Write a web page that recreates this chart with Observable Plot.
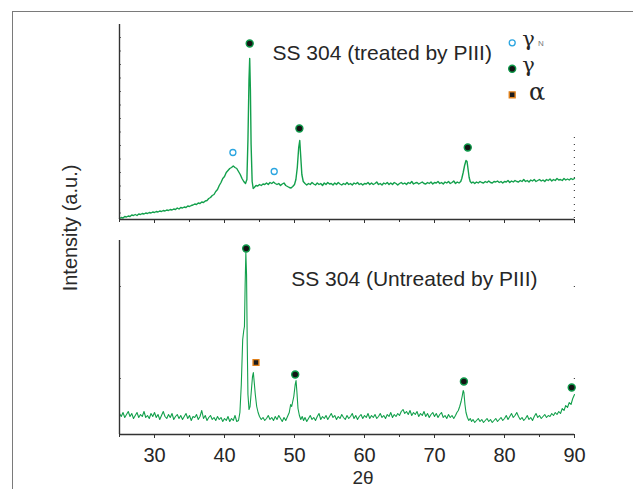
<!DOCTYPE html>
<html><head><meta charset="utf-8">
<script src="https://cdn.jsdelivr.net/npm/d3@7"></script>
<script src="https://cdn.jsdelivr.net/npm/@observablehq/plot@0.6"></script>
<style>
body{margin:0;background:#fff;}
#wrap{position:relative;width:633px;height:489px;overflow:hidden;font-family:"Liberation Sans",Arial,sans-serif;background:#fff;}
#frame{position:absolute;left:12px;top:11px;width:700px;height:600px;border-left:1.5px solid #7a7a7a;border-top:1.5px solid #7a7a7a;}
#top,#bottom{position:absolute;left:0;}
#top{top:0px;}
#bottom{top:230px;}
#ylabel{position:absolute;left:-30px;top:217.5px;width:200px;height:20px;line-height:20px;font-size:20px;text-align:center;color:#2a2a2a;transform:rotate(-90deg);transform-origin:50% 50%;white-space:nowrap;}
#xlabel{position:absolute;left:313px;top:469.9px;width:100px;height:15px;text-align:center;font-size:19px;line-height:15px;color:#2a2a2a;}
</style>
</head><body>
<div id="wrap">
  <div id="frame"></div>
  <div id="top"></div>
  <div id="bottom"></div>
  <div id="ylabel"></div>
  <div id="xlabel"></div>
</div>
<script>
// ---------- data ----------
const yLabel = "Intensity (a.u.)";
const xLabel = "2θ";
const titles = ["SS 304 (treated by PIII)", "SS 304 (Untreated by PIII)"];
const xDomain = [25, 90];
const xTickLabels = [30, 40, 50, 60, 70, 80, 90];
const xMinorTicks = [25, 35, 45, 55, 65, 75, 85];
const topYTicks = [6.5, 20, 33.5, 47, 60.5, 74, 87.5, 101, 114.5, 128, 141.5, 155, 168.5, 182];
const topRightTicks = [2, 9, 15, 22, 29, 35, 42, 49, 55, 62, 69, 75, 82];
const bottomYTicks = [56, 148];

// treated spectrum: [2θ, intensity]
const treated = [
[25,1],[25.25,2],[25.5,1.5],[25.75,3],[26,2.5],[26.25,3.5],[26.5,3],[26.75,4.5],[27,4],[27.25,5],[27.5,4],[27.75,5.5],
[28,5],[28.25,6],[28.5,5.5],[28.75,6.5],[29,6],[29.25,7],[29.5,6.5],[29.75,7.5],[30,7],[30.25,8],[30.5,7.5],[30.75,8.5],
[31,8],[31.25,9],[31.5,8.5],[31.75,9.5],[32,9],[32.25,10],[32.5,9.5],[32.75,10.5],[33,10],[33.25,11.5],[33.5,10.5],[33.75,12],
[34,11.5],[34.25,12.5],[34.5,12],[34.75,13.5],[35,13],[35.25,14],[35.5,14.5],[35.75,15.5],[36,15],[36.25,16.5],[36.5,16],[36.75,17.5],
[37,17],[37.25,18.5],[37.5,19],[37.75,21],[38,22],[38.25,24],[38.5,25],[38.75,28],[39,30],[39.25,34],[39.5,37],[39.75,41],
[40,43],[40.25,47],[40.5,49],[40.75,51],[41,52],[41.25,53.5],[41.5,52],[41.75,51],[42,48],[42.25,45],[42.5,41],[42.75,38],
[43,36],[43.2,40],[43.35,80],[43.5,140],[43.6,161],[43.7,130],[43.8,75],[43.95,38],[44.1,31],[44.25,32],[44.5,34],[44.75,33.5],
[45,35],[45.25,34],[45.5,35.5],[45.75,35],[46,36.5],[46.25,35],[46.5,37],[46.75,36],[47,37.5],[47.25,36],[47.5,35],[47.75,36],
[48,34],[48.25,35.5],[48.5,36.5],[48.75,34],[49,33],[49.25,32],[49.5,31.5],[49.75,33],[50,35],[50.2,40],[50.4,52],[50.6,72],
[50.75,79],[50.9,62],[51.05,45],[51.25,38],[51.5,36],[51.75,34.5],[52,36],[52.25,35],[52.5,37],[52.75,35.5],[53,34.5],[53.25,36.5],
[53.5,35],[53.75,36],[54,34],[54.25,36.5],[54.5,35],[54.75,37],[55,35.5],[55.25,36],[55.5,34.5],[55.75,36.5],[56,35],[56.25,37],
[56.5,35.5],[56.75,34.5],[57,36],[57.25,35],[57.5,37],[57.75,35],[58,36],[58.25,34.5],[58.5,36.5],[58.75,35.5],[59,37],[59.25,35],
[59.5,36],[59.75,34.5],[60,36],[60.25,35.5],[60.5,37],[60.75,35],[61,36.5],[61.25,35],[61.5,36],[61.75,37.5],[62,35],[62.25,36],
[62.5,34.5],[62.75,36.5],[63,35.5],[63.25,37],[63.5,35],[63.75,36.5],[64,35],[64.25,37],[64.5,36],[64.75,34.5],[65,36],[65.25,37],
[65.5,35.5],[65.75,36.5],[66,35],[66.25,37],[66.5,36],[66.75,38],[67,35.5],[67.25,36.5],[67.5,37],[67.75,35.5],[68,36.5],[68.25,37.5],
[68.5,36],[68.75,35.5],[69,37],[69.25,36],[69.5,37.5],[69.75,35.5],[70,37],[70.25,36.5],[70.5,38],[70.75,36],[71,37],[71.25,35.5],
[71.5,37.5],[71.75,36.5],[72,38],[72.25,36],[72.5,37],[72.75,38.5],[73,36],[73.25,37.5],[73.5,36.5],[73.75,38],[73.9,41],[74.1,47],
[74.3,54],[74.5,59],[74.65,58],[74.8,50],[74.95,42],[75.1,38],[75.3,36.5],[75.5,37.5],[75.75,36],[76,37.5],[76.25,36.5],[76.5,38],
[76.75,37],[77,36.5],[77.25,38],[77.5,37],[77.75,38.5],[78,37],[78.25,36.5],[78.5,38],[78.75,37.5],[79,38.5],[79.25,37],[79.5,38],
[79.75,36.5],[80,38],[80.25,37.5],[80.5,39],[80.75,37],[81,38.5],[81.25,37.5],[81.5,39],[81.75,38],[82,37.5],[82.25,39],[82.5,38],
[82.75,40],[83,38],[83.25,39],[83.5,37.5],[83.75,39.5],[84,38.5],[84.25,40],[84.5,38],[84.75,39],[85,40],[85.25,38.5],[85.5,39.5],
[85.75,38],[86,40],[86.25,39],[86.5,40.5],[86.75,38.5],[87,40],[87.25,39],[87.5,41],[87.75,39.5],[88,40],[88.25,39],[88.5,41],
[88.75,39.5],[89,40.5],[89.25,39.5],[89.5,41],[89.75,40],[90,41]
];

// untreated spectrum: [2θ, intensity]
const untreated = [
[25,21],[25.25,18],[25.5,22],[25.75,17],[26,20],[26.25,23],[26.5,18],[26.75,21],[27,16],[27.25,19],[27.5,22],[27.75,17],
[28,20],[28.25,18],[28.5,23],[28.75,17],[29,19],[29.25,16],[29.5,21],[29.75,18],[30,22],[30.25,17],[30.5,20],[30.75,15],
[31,19],[31.25,23],[31.5,18],[31.75,16],[32,20],[32.25,17],[32.5,21],[32.75,15],[33,18],[33.25,20],[33.5,16],[33.75,19],
[34,15],[34.25,18],[34.5,21],[34.75,16],[35,19],[35.25,14],[35.5,18],[35.75,17],[36,20],[36.25,15],[36.5,18],[36.75,24],
[37,16],[37.25,19],[37.5,14],[37.75,17],[38,19],[38.25,15],[38.5,17],[38.75,14],[39,18],[39.25,15],[39.5,17],[39.75,13],
[40,16],[40.25,14],[40.5,18],[40.75,13],[41,16],[41.25,14],[41.5,19],[41.75,13],[42,14],[42.2,22],[42.4,50],[42.6,95],
[42.75,104],[42.85,108],[42.95,150],[43.05,182],[43.15,160],[43.25,90],[43.35,40],[43.5,25],[43.65,28],[43.85,45],[44,58],[44.12,62],
[44.25,52],[44.4,40],[44.6,28],[44.8,22],[45,18],[45.25,15],[45.5,17],[45.75,14],[46,16],[46.25,19],[46.5,15],[46.75,17],
[47,14],[47.25,18],[47.5,15],[47.75,19],[48,16],[48.25,13],[48.5,17],[48.75,14],[49,18],[49.25,22],[49.45,30],[49.6,28],
[49.75,33],[49.9,38],[50.1,50],[50.22,54],[50.35,42],[50.5,26],[50.7,19],[50.9,15],[51.1,18],[51.3,14],[51.5,17],[51.75,13],
[52,16],[52.25,19],[52.5,15],[52.75,17],[53,14],[53.25,18],[53.5,21],[53.75,15],[54,18],[54.25,16],[54.5,19],[54.75,15],
[55,18],[55.25,21],[55.5,17],[55.75,19],[56,15],[56.25,18],[56.5,16],[56.75,20],[57,17],[57.25,15],[57.5,19],[57.75,16],
[58,18],[58.25,21],[58.5,16],[58.75,19],[59,15],[59.25,18],[59.5,20],[59.75,16],[60,19],[60.25,17],[60.5,21],[60.75,16],
[61,19],[61.25,17],[61.5,20],[61.75,16],[62,18],[62.25,21],[62.5,17],[62.75,19],[63,16],[63.25,20],[63.5,18],[63.75,22],
[64,17],[64.25,20],[64.5,18],[64.75,21],[65,19],[65.25,23],[65.5,25],[65.75,21],[66,23],[66.25,20],[66.5,24],[66.75,19],
[67,22],[67.25,20],[67.5,23],[67.75,18],[68,21],[68.25,19],[68.5,23],[68.75,18],[69,21],[69.25,17],[69.5,20],[69.75,22],
[70,18],[70.25,21],[70.5,17],[70.75,20],[71,22],[71.25,17],[71.5,19],[71.75,16],[72,20],[72.25,17],[72.5,19],[72.75,16],
[73,19],[73.2,22],[73.4,24],[73.6,28],[73.8,33],[73.95,38],[74.1,44],[74.2,42],[74.35,30],[74.5,22],[74.7,17],[74.9,14],
[75.1,16],[75.3,13],[75.5,15],[75.75,12],[76,14],[76.25,16],[76.5,13],[76.75,15],[77,12],[77.25,14],[77.5,16],[77.75,13],
[78,15],[78.25,12],[78.5,14],[78.75,16],[79,13],[79.25,15],[79.5,17],[79.75,14],[80,16],[80.25,19],[80.5,15],[80.75,18],
[81,21],[81.25,17],[81.5,19],[81.75,22],[82,18],[82.25,15],[82.5,17],[82.75,14],[83,16],[83.25,19],[83.5,15],[83.75,17],
[84,14],[84.25,18],[84.5,21],[84.75,17],[85,19],[85.25,16],[85.5,18],[85.75,20],[86,17],[86.25,19],[86.5,18],[86.75,21],
[87,19],[87.25,22],[87.5,20],[87.75,23],[88,21],[88.25,26],[88.5,24],[88.75,29],[89,27],[89.25,32],[89.5,30],[89.75,36],[90,40]
];

// peak markers
const gammaTop = [[43.6,176],[50.7,91],[74.75,72]];
const gammaNTop = [[41.2,67],[47.1,48]];
const gammaBottom = [[43.1,186],[50.1,60],[74.2,53],[89.6,47]];
const alphaBottom = [[44.5,72]];

// legend
const legendSymbols = ["○", "●", "■"];
const legendLabels = ["γ", "γ", "α"];
const legendSub = "N";

// ---------- styles ----------
const lineColor = "#13a04c";
const gammaFill = "#141414", gammaStroke = "#0e9a4a";
const gammaNStroke = "#2aa5e0";
const alphaFill = "#1c1c1c", alphaStroke = "#e0801a";
const axisColor = "#333";
const textColor = "#262626";
const font = "'Liberation Sans', Arial, sans-serif";
const serif = "'DejaVu Serif', 'Liberation Serif', serif";

document.getElementById("ylabel").textContent = yLabel;
document.getElementById("xlabel").textContent = xLabel;

const common = {
  width: 633,
  marginLeft: 119,
  marginRight: 59,
  style: {background: "transparent", fontFamily: font, overflow: "visible", maxWidth: "none"},
  x: {domain: xDomain, axis: null},
};

const xTicksMarks = (withLabels) => [
  Plot.axisX({ticks: xMinorTicks, tickSize: 3, stroke: axisColor, tickFormat: () => ""}),
  Plot.axisX({ticks: xTickLabels, tickSize: 4, stroke: axisColor, tickPadding: 9.5,
    fontSize: 20, fill: textColor,
    tickFormat: withLabels ? (d => String(d)) : (() => "")})
];

// ---- top panel ----
const topPlot = Plot.plot({
  ...common,
  height: 230,
  marginTop: 24,
  marginBottom: 11,
  y: {domain: [0, 195], axis: null},
  marks: [
    Plot.axisY({ticks: topYTicks, tickSize: 2, dx: 2, stroke: "#666", tickFormat: () => ""}),
    Plot.axisY({anchor: "right", ticks: topRightTicks, tickSize: 1.2, dx: -1.2, stroke: "#444", tickFormat: () => ""}),
    Plot.line(treated, {x: d => d[0], y: d => d[1], stroke: lineColor, strokeWidth: 1.4}),
    Plot.ruleX([xDomain[0]], {stroke: axisColor, strokeWidth: 1.4}),
    Plot.ruleY([0], {stroke: axisColor, strokeWidth: 1.3}),
    ...xTicksMarks(false),
    Plot.dot(gammaNTop, {x: d => d[0], y: d => d[1], r: 3, stroke: gammaNStroke, strokeWidth: 1.3, fill: "white"}),
    Plot.dot(gammaTop, {x: d => d[0], y: d => d[1], r: 3.5, fill: gammaFill, stroke: gammaStroke, strokeWidth: 1.4}),
    Plot.text([titles[0]], {frameAnchor: "top-left", dx: 153, dy: 35.3, textAnchor: "start", lineAnchor: "bottom", fontSize: 21, fill: textColor}),
    // legend
    Plot.dot([legendSymbols[0]], {frameAnchor: "top-right", dx: -62.3, dy: 18.3, r: 3, stroke: gammaNStroke, strokeWidth: 1.3, fill: "white"}),
    Plot.dot([legendSymbols[1]], {frameAnchor: "top-right", dx: -62.3, dy: 44.3, r: 3.5, fill: gammaFill, stroke: gammaStroke, strokeWidth: 1.4}),
    Plot.dot([legendSymbols[2]], {frameAnchor: "top-right", dx: -62.3, dy: 70.3, r: 3.3, symbol: "square", fill: alphaFill, stroke: alphaStroke, strokeWidth: 1.4}),
    Plot.text([legendLabels[0]], {frameAnchor: "top-right", dx: -46, dy: 21, textAnchor: "middle", lineAnchor: "bottom", fontSize: 21, fontFamily: serif, fill: textColor}),
    Plot.text([legendSub], {frameAnchor: "top-right", dx: -33.7, dy: 21.5, textAnchor: "middle", lineAnchor: "bottom", fontSize: 8, fill: "#777"}),
    Plot.text([legendLabels[1]], {frameAnchor: "top-right", dx: -46, dy: 47, textAnchor: "middle", lineAnchor: "bottom", fontSize: 21, fontFamily: serif, fill: textColor}),
    Plot.text([legendLabels[2]], {frameAnchor: "top-right", dx: -37.5, dy: 75, textAnchor: "middle", lineAnchor: "bottom", fontSize: 24, fontFamily: serif, fill: textColor})
  ]
});
document.getElementById("top").appendChild(topPlot);

// ---- bottom panel ----
const bottomPlot = Plot.plot({
  ...common,
  height: 259,
  marginTop: 10,
  marginBottom: 55,
  y: {domain: [0, 194], axis: null},
  marks: [
    Plot.axisY({ticks: bottomYTicks, tickSize: 2, dx: 2, stroke: "#666", tickFormat: () => ""}),
    Plot.axisY({anchor: "right", ticks: bottomYTicks, tickSize: 1.2, dx: -1.2, stroke: "#444", tickFormat: () => ""}),
    Plot.line(untreated, {x: d => d[0], y: d => d[1], stroke: lineColor, strokeWidth: 1.1}),
    Plot.ruleX([xDomain[0]], {stroke: axisColor, strokeWidth: 1.4}),
    Plot.ruleY([0], {stroke: axisColor, strokeWidth: 1.3}),
    ...xTicksMarks(true),
    Plot.dot(alphaBottom, {x: d => d[0], y: d => d[1], r: 3.3, symbol: "square", fill: alphaFill, stroke: alphaStroke, strokeWidth: 1.4}),
    Plot.dot(gammaBottom, {x: d => d[0], y: d => d[1], r: 3.5, fill: gammaFill, stroke: gammaStroke, strokeWidth: 1.4}),
    Plot.text([titles[1]], {frameAnchor: "top-left", dx: 171.7, dy: 45, textAnchor: "start", lineAnchor: "bottom", fontSize: 21, fill: textColor})
  ]
});
document.getElementById("bottom").appendChild(bottomPlot);
</script>
</body></html>
